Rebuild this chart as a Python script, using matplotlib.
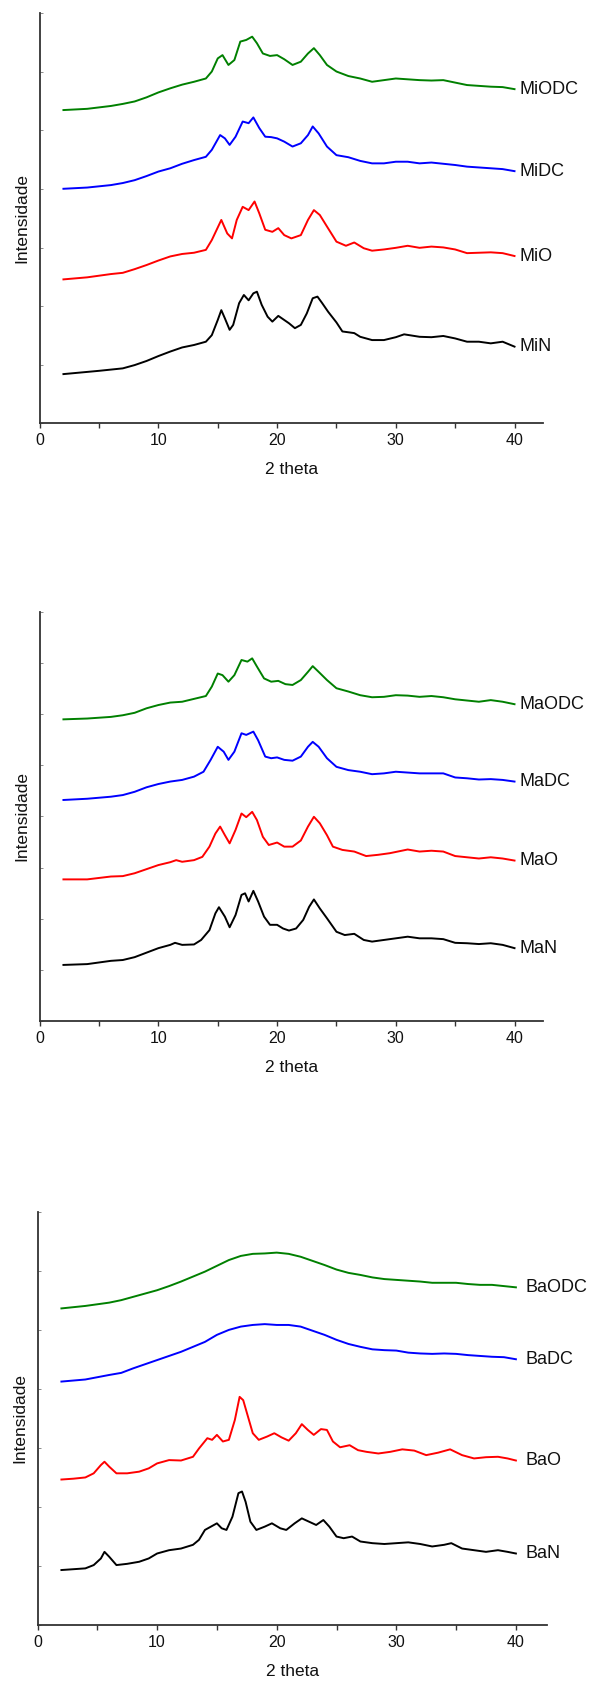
import numpy as np
import matplotlib.pyplot as plt

plt.rcParams['font.family'] = ['Liberation Sans', 'DejaVu Sans']

# ---- panel 1 (Mi) : values, intensity in % of axis height ----
mi_n_x = [2, 5, 7, 8, 9, 10, 11, 12, 13, 14, 14.5, 15, 15.3, 15.6, 16, 16.3, 16.8, 17.2, 17.6, 18.0, 18.3,
          18.7, 19.2, 19.6, 20.1, 20.6, 21.0, 21.5, 22.0, 22.5, 23.0, 23.4, 23.8, 24.3, 25, 25.5, 26.5, 27,
          28, 29, 30, 30.7, 32, 33, 34, 35, 36, 37, 38, 39, 40]
mi_n_y = [12.0, 12.8, 13.4, 14.2, 15.2, 16.4, 17.5, 18.5, 19.1, 19.9, 21.5, 25.2, 27.6, 25.6, 22.8, 24.0, 29.3,
          31.3, 30.0, 31.7, 32.1, 28.9, 26.0, 24.8, 26.2, 25.2, 24.4, 23.2, 24.0, 26.8, 30.5, 30.9, 29.3, 27.2,
          24.6, 22.4, 22.0, 21.1, 20.3, 20.3, 21.0, 21.7, 21.1, 21.0, 21.3, 20.7, 19.9, 19.9, 19.5, 19.9, 18.7]

mi_o_x = [2, 4, 6, 7, 8, 9, 10, 11, 12, 13, 14, 14.5, 15.3, 15.8, 16.2, 16.6, 17.1, 17.6, 18.1, 18.5, 19.0,
          19.6, 20.1, 20.6, 21.2, 22, 22.6, 23.1, 23.6, 24.2, 25, 25.8, 26.5, 27.3, 28, 29, 30, 31, 32, 33,
          34, 35, 36, 37, 38, 39, 40]
mi_o_y = [35.1, 35.6, 36.4, 36.7, 37.6, 38.6, 39.7, 40.7, 41.3, 41.6, 42.3, 44.7, 49.6, 46.3, 45.1, 49.6,
          52.8, 52.0, 54.1, 51.2, 47.2, 46.7, 47.6, 45.9, 45.1, 45.9, 49.6, 52.0, 50.8, 48.0, 44.3, 43.3,
          44.1, 42.7, 42.1, 42.4, 42.8, 43.3, 42.8, 43.1, 42.9, 42.4, 41.5, 41.6, 41.7, 41.5, 40.8]

mi_dc_x = [2, 4, 6, 7, 8, 9, 10, 11, 12, 13, 14, 14.5, 15.2, 15.6, 16, 16.5, 17.1, 17.6, 18.0, 18.5, 19,
           19.5, 20, 20.6, 21.3, 22, 22.6, 23.0, 23.5, 24.2, 25, 26, 27, 28, 29, 30, 31, 32, 33, 34, 35,
           36, 37, 38, 39, 40]
mi_dc_y = [57.2, 57.5, 58.1, 58.6, 59.3, 60.3, 61.4, 62.2, 63.3, 64.2, 65.0, 66.7, 70.3, 69.5, 67.9, 69.9,
           73.6, 73.2, 74.6, 72.0, 69.9, 69.8, 69.5, 68.7, 67.5, 68.3, 70.3, 72.4, 70.7, 67.5, 65.4, 64.9,
           64.0, 63.4, 63.4, 63.8, 63.8, 63.4, 63.6, 63.3, 63.0, 62.6, 62.4, 62.2, 62.0, 61.5]

mi_odc_x = [2, 4, 6, 7, 8, 9, 10, 11, 12, 13, 14, 14.5, 15.0, 15.4, 15.9, 16.4, 16.9, 17.4, 17.9, 18.3,
            18.8, 19.4, 20, 20.6, 21.3, 22, 22.6, 23.1, 23.6, 24.2, 25, 26, 27, 28, 29, 30, 31, 32, 33,
            34, 35, 36, 37, 38, 39, 40]
mi_odc_y = [76.4, 76.7, 77.4, 77.9, 78.5, 79.5, 80.7, 81.7, 82.6, 83.3, 84.1, 85.8, 89.0, 89.8, 87.4, 88.6,
            93.1, 93.5, 94.3, 92.7, 90.2, 89.6, 89.8, 88.8, 87.4, 88.2, 90.2, 91.5, 89.8, 87.4, 85.8, 84.7,
            84.1, 83.3, 83.7, 84.1, 83.9, 83.7, 83.6, 83.7, 83.1, 82.5, 82.3, 82.1, 82.0, 81.5]

# ---- panel 2 (Ma) ----
ma_n_x = [2, 4, 6, 7, 8, 9, 10, 11, 11.4, 12, 13, 13.6, 14.3, 14.8, 15.1, 15.6, 16.0, 16.5, 17.0, 17.3,
          17.6, 18.0, 18.4, 18.9, 19.4, 20, 20.5, 21.0, 21.6, 22.2, 22.7, 23.1, 23.6, 24.2, 25, 25.7, 26.5,
          27.3, 28, 29, 30, 31, 32, 33, 34, 35, 36, 37, 38, 39, 40]
ma_n_y = [13.7, 13.9, 14.7, 14.9, 15.6, 16.7, 17.8, 18.6, 19.1, 18.6, 18.7, 19.8, 22.2, 26.3, 27.8, 25.5,
          22.9, 25.9, 30.8, 31.2, 29.2, 31.8, 29.2, 25.5, 23.5, 23.5, 22.6, 22.1, 22.6, 24.7, 27.9, 29.7,
          27.5, 25.1, 21.8, 21.0, 21.3, 19.8, 19.4, 19.8, 20.2, 20.6, 20.2, 20.2, 20.0, 19.1, 19.0, 18.8,
          19.0, 18.6, 17.8]

ma_o_x = [2, 4, 6, 7, 8, 9, 10, 11, 11.5, 12, 13, 13.7, 14.3, 14.8, 15.2, 15.6, 16.0, 16.5, 17.0, 17.4,
          17.9, 18.3, 18.8, 19.3, 20, 20.6, 21.3, 22, 22.6, 23.1, 23.6, 24.2, 24.7, 25.5, 26.5, 27.5, 28.5,
          29.5, 30.5, 31, 32, 33, 34, 35, 36, 37, 38, 39, 40]
ma_o_y = [34.6, 34.6, 35.3, 35.4, 36.1, 37.1, 38.1, 38.8, 39.3, 38.9, 39.3, 40.1, 42.6, 45.8, 47.5, 45.4,
          43.4, 46.7, 50.7, 49.8, 51.1, 49.1, 45.0, 43.0, 43.6, 42.6, 42.6, 44.1, 47.5, 49.9, 48.3, 45.4,
          42.6, 41.8, 41.4, 40.3, 40.6, 41.0, 41.6, 41.9, 41.4, 41.6, 41.4, 40.3, 40.0, 39.7, 40.0, 39.7, 39.2]

ma_dc_x = [2, 4, 6, 7, 8, 9, 10, 11, 12, 13, 13.8, 14.4, 15.0, 15.5, 15.9, 16.4, 17.0, 17.4, 18.0, 18.4,
           19, 19.5, 20, 20.6, 21.3, 22, 22.6, 23.0, 23.5, 24.2, 25, 26, 27, 28, 29, 30, 31, 32, 33, 34,
           35, 36, 37, 38, 39, 40]
ma_dc_y = [54.0, 54.3, 54.8, 55.2, 56.0, 57.1, 57.9, 58.5, 58.9, 59.7, 60.9, 63.8, 67.0, 65.8, 63.8, 65.8,
           70.3, 69.9, 70.7, 68.6, 64.6, 64.2, 64.4, 63.8, 63.6, 64.6, 67.0, 68.2, 67.0, 64.2, 62.1, 61.3,
           60.9, 60.3, 60.5, 60.9, 60.7, 60.5, 60.5, 60.5, 59.5, 59.3, 59.0, 59.1, 58.9, 58.5]

ma_odc_x = [2, 4, 6, 7, 8, 9, 10, 11, 12, 13, 14, 14.5, 15.0, 15.4, 15.9, 16.4, 17.0, 17.5, 17.9, 18.3,
            18.9, 19.5, 20.1, 20.7, 21.3, 22, 22.6, 23.0, 23.5, 24.2, 25, 26, 27, 28, 29, 30, 31, 32, 33,
            34, 35, 36, 37, 38, 39, 40]
ma_odc_y = [73.7, 73.9, 74.3, 74.7, 75.3, 76.4, 77.2, 77.8, 78.0, 78.7, 79.4, 81.7, 84.9, 84.5, 82.9, 84.5,
            88.2, 87.8, 88.6, 86.6, 83.7, 82.9, 83.1, 82.3, 82.1, 83.3, 85.3, 86.7, 85.3, 83.3, 81.3, 80.5,
            79.6, 79.1, 79.2, 79.6, 79.5, 79.2, 79.4, 79.1, 78.6, 78.3, 78.0, 78.4, 78.0, 77.4]

# ---- panel 3 (Ba) ----
ba_n_x = [2, 3, 4, 4.7, 5.3, 5.6, 6.0, 6.6, 7.5, 8.5, 9.3, 10, 11, 12, 13, 13.5, 14, 14.5, 15, 15.4, 15.8,
          16.3, 16.8, 17.1, 17.4, 17.8, 18.3, 19, 19.6, 20.3, 20.8, 21.5, 22.1, 22.7, 23.3, 23.9, 24.4, 25,
          25.6, 26.3, 27, 28, 29, 30, 31, 32, 33, 34, 34.6, 35.5, 36.5, 37.5, 38.5, 39.3, 40]
ba_n_y = [13.3, 13.5, 13.7, 14.5, 16.1, 17.7, 16.5, 14.5, 14.8, 15.3, 16.1, 17.3, 18.1, 18.5, 19.4, 20.6,
          23.0, 23.8, 24.6, 23.4, 23.0, 26.2, 31.9, 32.3, 29.8, 25.0, 23.0, 23.8, 24.6, 23.4, 23.0, 24.6,
          25.8, 25.0, 24.2, 25.4, 23.8, 21.4, 21.0, 21.4, 20.2, 19.8, 19.6, 19.8, 20.0, 19.6, 19.0, 19.4,
          19.8, 18.5, 18.1, 17.7, 18.1, 17.7, 17.3]

ba_o_x = [2, 3, 4, 4.7, 5.3, 5.6, 6.0, 6.6, 7.5, 8.5, 9.3, 10, 11, 12, 13, 13.5, 14.2, 14.6, 15.0, 15.5,
          16.0, 16.5, 16.9, 17.2, 17.6, 18.0, 18.5, 19.2, 19.8, 20.4, 21.0, 21.6, 22.1, 22.6, 23.1, 23.7,
          24.2, 24.7, 25.3, 26.1, 26.8, 27.5, 28.5, 29.5, 30.5, 31.5, 32.5, 33.5, 34.5, 35.5, 36.5, 37.5,
          38.5, 39.3, 40]
ba_o_y = [35.2, 35.4, 35.7, 36.7, 38.7, 39.5, 38.3, 36.7, 36.7, 37.1, 37.9, 39.1, 39.9, 39.8, 40.7, 42.7,
          45.2, 44.8, 46.0, 44.4, 44.8, 49.6, 55.2, 54.4, 50.4, 46.4, 44.8, 45.6, 46.4, 45.4, 44.6, 46.4,
          48.6, 47.2, 46.0, 47.4, 47.2, 44.4, 43.0, 43.5, 42.3, 41.9, 41.5, 41.9, 42.5, 42.2, 41.1, 41.7,
          42.5, 41.1, 40.3, 40.6, 40.7, 40.3, 39.8]

ba_dc_x = [2, 4, 6, 7, 8, 9, 10, 11, 12, 13, 14, 15, 16, 17, 18, 19, 20, 21, 22, 23, 24, 25, 26, 27, 28,
           29, 30, 31, 32, 33, 34, 35, 36, 37, 38, 39, 40]
ba_dc_y = [58.9, 59.4, 60.5, 61.0, 62.1, 63.1, 64.1, 65.1, 66.1, 67.3, 68.5, 70.2, 71.4, 72.2, 72.6, 72.8,
           72.6, 72.6, 72.2, 71.2, 70.2, 69.0, 68.0, 67.3, 66.7, 66.5, 66.4, 65.9, 65.7, 65.6, 65.7, 65.6,
           65.3, 65.1, 64.9, 64.8, 64.3]

ba_odc_x = ba_dc_x
ba_odc_y = [76.6, 77.2, 78.0, 78.6, 79.4, 80.2, 81.0, 82.0, 83.1, 84.3, 85.5, 86.9, 88.3, 89.3, 89.8, 89.9,
            90.1, 89.8, 89.1, 88.1, 87.1, 86.0, 85.2, 84.7, 84.1, 83.7, 83.5, 83.3, 83.1, 82.8, 82.8, 82.8,
            82.5, 82.3, 82.3, 82.0, 81.7]

colors = ['black', 'red', 'blue', 'green']

panels = [
    dict(names=['MiN', 'MiO', 'MiDC', 'MiODC'],
         xs=[mi_n_x, mi_o_x, mi_dc_x, mi_odc_x], ys=[mi_n_y, mi_o_y, mi_dc_y, mi_odc_y],
         rect=[39.7, 13.3, 543, 423.3], xmax=42.4, nticks=7, labx=40.45),
    dict(names=['MaN', 'MaO', 'MaDC', 'MaODC'],
         xs=[ma_n_x, ma_o_x, ma_dc_x, ma_odc_x], ys=[ma_n_y, ma_o_y, ma_dc_y, ma_odc_y],
         rect=[39.7, 611.7, 543, 1021], xmax=42.4, nticks=8, labx=40.45),
    dict(names=['BaN', 'BaO', 'BaDC', 'BaODC'],
         xs=[ba_n_x, ba_o_x, ba_dc_x, ba_odc_x], ys=[ba_n_y, ba_o_y, ba_dc_y, ba_odc_y],
         rect=[37.5, 1211.7, 547, 1625], xmax=42.6, nticks=7, labx=40.8),
]

W, H = 590, 1682
fig = plt.figure(figsize=(W / 100, H / 100), dpi=100)
spine_col = '#333333'

for p in panels:
    x0, y0, x1, y1 = p['rect']
    ax = fig.add_axes([x0 / W, 1 - y1 / H, (x1 - x0) / W, (y1 - y0) / H])
    for name, x, y, c in zip(p['names'], p['xs'], p['ys'], colors):
        ax.plot(x, y, color=c, lw=1.4)
        ax.text(p['labx'], y[-1], name, fontsize=13, va='center', ha='left', color='#111111')
    ax.set_xlim(0, p['xmax'])
    ax.set_ylim(0, 100)
    ax.set_xticks([0, 10, 20, 30, 40])
    ax.set_xticks([5, 15, 25, 35], minor=True)
    ax.set_yticks(np.linspace(0, 100, p['nticks'] + 1))
    ax.set_yticklabels([])
    ax.tick_params(axis='x', which='both', direction='out', length=3.5, width=1.0,
                   color=spine_col, labelsize=11.5, labelcolor='#111111')
    ax.tick_params(axis='y', direction='in', length=2, width=0.6, color='#777777')
    for s in ['top', 'right']:
        ax.spines[s].set_visible(False)
    for s in ['left', 'bottom']:
        ax.spines[s].set_linewidth(1.3)
        ax.spines[s].set_color(spine_col)
    ax.set_xlabel('2 theta', fontsize=12.5, labelpad=10, color='#111111')
    ax.set_ylabel('Intensidade', fontsize=12.5, labelpad=4, color='#111111')

fig.savefig('out.png', dpi=100)
